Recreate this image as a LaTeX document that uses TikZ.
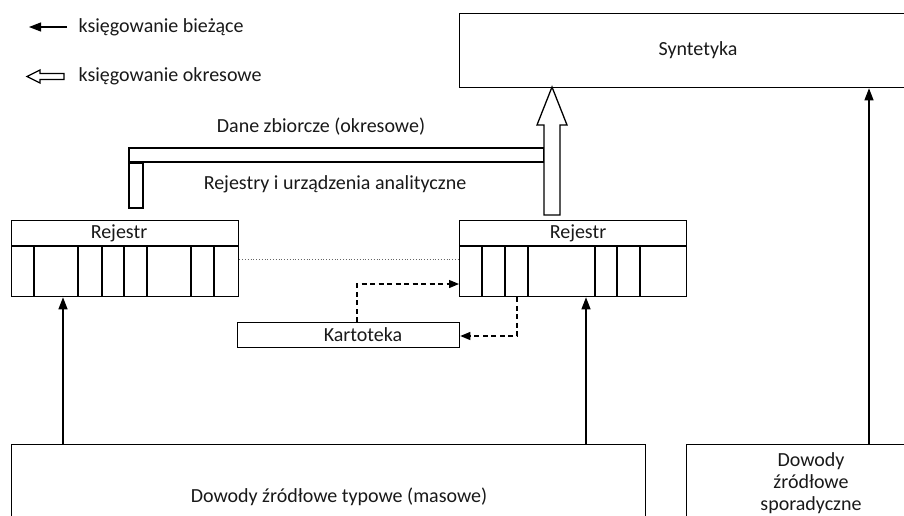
\documentclass[tikz,border=0pt]{standalone}
\usepackage{fontspec}
\setmainfont{Carlito}
\usetikzlibrary{arrows.meta}
\begin{document}
\begin{tikzpicture}[x=1pt,y=-1pt,
  font=\fontsize{20}{22}\selectfont,
  line width=1.3pt,
  box/.style={draw, line width=1.3pt, rectangle, inner sep=0pt, anchor=north west},
  txt/.style={inner sep=0pt, text=black!90},
  solidarr/.style={line width=1.2pt, -{Triangle[length=12pt,width=9pt]}},
  dasharr/.style={line width=1.2pt, dash pattern=on 5pt off 3.5pt, -{Triangle[length=10pt,width=8pt]}},
  hollow/.style={draw, line width=1.3pt, fill=white, line join=miter}
]
\useasboundingbox (0,0) rectangle (904,515);
\clip (0,0) rectangle (904,515);

% legend
\coordinate (l1s) at (67,27);
\coordinate (l1e) at (29,27);
\draw[solidarr] (l1s) -- (l1e);
\node[txt, anchor=west] (leg1) at (78,27) {księgowanie bieżące};
\draw[hollow] (27,76.5) -- (40,70) -- (40,73.5) -- (64,73.5) -- (64,79.5) -- (40,79.5) -- (40,83) -- cycle;
\node[txt, anchor=west] (leg2) at (78,76) {księgowanie okresowe};

% boxes
\node[box, minimum width=476pt, minimum height=74pt] (synt) at (459,13) {};
\node[txt] (syntT) at (698,50) {Syntetyka};

\node[box, minimum width=227pt, minimum height=76pt] (regL) at (11,220) {};
\draw ([yshift=-26pt]regL.north west) -- ([yshift=-26pt]regL.north east);
\node[txt] (regLT) at (119,233) {Rejestr};
\foreach \x in {34,78,102,124,147,191,214} \draw (\x,246) -- (\x,296);

\node[box, minimum width=227pt, minimum height=76pt] (regR) at (459,220) {};
\draw ([yshift=-26pt]regR.north west) -- ([yshift=-26pt]regR.north east);
\node[txt] (regRT) at (578,233) {Rejestr};
\foreach \x in {482,505,528,595,617,640} \draw (\x,246) -- (\x,296);

\node[box, minimum width=222pt, minimum height=25pt] (kart) at (237,322) {};
\node[txt] (kartT) at (363,334.5) {Kartoteka};

\node[box, minimum width=634pt, minimum height=110pt] (dowTyp) at (11,444) {};
\node[txt] (dowTypT) at (339,497) {Dowody źródłowe typowe (masowe)};

\node[box, minimum width=250pt, minimum height=110pt] (dowSpor) at (686,444) {};
\node[txt, align=center] (dowSporT) at (811,483) {Dowody\\źródłowe\\sporadyczne};

% periodic (hollow) structure
\draw[hollow] (129,148) rectangle (544,162);
\draw[hollow] (129,163) rectangle (143,208);
\draw[hollow] (544,215) -- (544,125) -- (537,125) -- (552,87) -- (567,125) -- (560,125) -- (560,215) -- cycle;
\node[txt] (daneT) at (321,127) {Dane zbiorcze (okresowe)};
\node[txt] (rejT) at (335,184) {Rejestry i urządzenia analityczne};

% dotted link
\draw[line width=0.8pt, dotted, black!60] ([yshift=-39pt]regL.north east) -- ([yshift=-39pt]regR.north west);

% dashed arrows
\draw[dasharr] ([xshift=120pt]kart.north west) |- ([yshift=-64pt]regR.north west);
\draw[dasharr] ([xshift=58pt]regR.south west) |- ([yshift=-14pt]kart.north east);

% solid arrows
\draw[solidarr] ([xshift=52pt]dowTyp.north west) -- ([xshift=52pt]regL.south west);
\draw[solidarr] ([xshift=575pt]dowTyp.north west) -- ([xshift=127pt]regR.south west);
\draw[solidarr] ([xshift=183pt]dowSpor.north west) -- ([xshift=410pt]synt.south west);
\end{tikzpicture}
\end{document}
